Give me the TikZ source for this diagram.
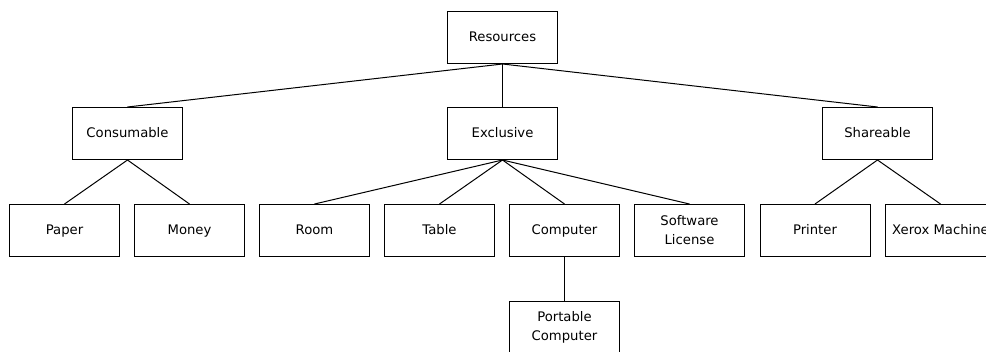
\documentclass[tikz,border=0pt]{standalone}
\usepackage{fontspec}
\setmainfont{DejaVu Sans}
\begin{document}
\begin{tikzpicture}[x=1pt,y=-1pt,
  item/.style={draw=black, line width=1pt, fill=white, minimum width=110pt, minimum height=52pt,
    inner sep=0pt, align=center, font=\fontsize{13.2pt}{19pt}\selectfont},
  oneline/.style={item, text height=9.6pt, text depth=2.6pt},
  link/.style={draw=black, line width=1pt}]
\useasboundingbox (0,0) rectangle (986,351);
\clip (0,0) rectangle (986,351);
\fill[white] (0,0) rectangle (986,351);

% top level
\node[oneline] (res) at (502.5,37.5) {Resources};

% categories
\node[oneline] (cons) at (127.5,133.5) {Consumable};
\node[oneline] (excl) at (502.5,133.5) {Exclusive};
\node[oneline] (share) at (877.5,133.5) {Shareable};

% leaves
\node[oneline] (paper) at (64.5,230.5) {Paper};
\node[oneline] (money) at (189.5,230.5) {Money};
\node[oneline] (room) at (314.5,230.5) {Room};
\node[oneline] (table) at (439.5,230.5) {Table};
\node[oneline] (comp) at (564.5,230.5) {Computer};
\node[item] (soft) at (689.5,230.5) {Software\\License};
\node[oneline] (printer) at (815,230.5) {Printer};
\node[oneline] (xerox) at (940.5,230.5) {Xerox Machine};
\node[item] (port) at (564.5,327.5) {Portable\\Computer};

% connectors
\draw[link] (res.south) -- (cons.north);
\draw[link] (res.south) -- (excl.north);
\draw[link] (res.south) -- (share.north);
\draw[link] (cons.south) -- (paper.north);
\draw[link] (cons.south) -- (money.north);
\draw[link] (excl.south) -- (room.north);
\draw[link] (excl.south) -- (table.north);
\draw[link] (excl.south) -- (comp.north);
\draw[link] (excl.south) -- (soft.north);
\draw[link] (share.south) -- (printer.north);
\draw[link] (share.south) -- (xerox.north);
\draw[link] (comp.south) -- (port.north);
\end{tikzpicture}
\end{document}
